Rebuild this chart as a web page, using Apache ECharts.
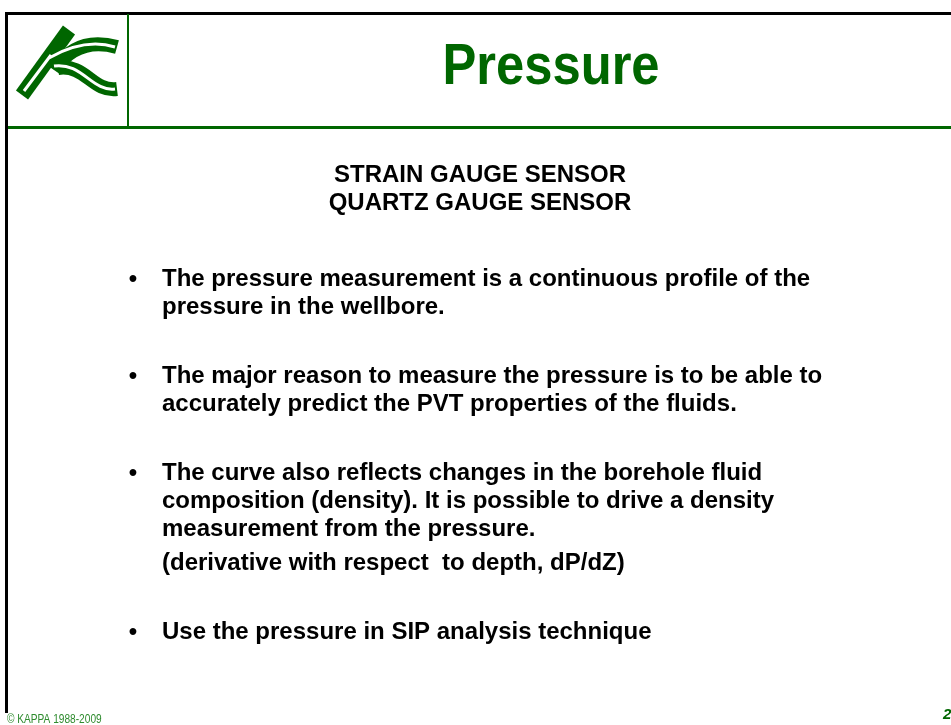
<!DOCTYPE html>
<html>
<head>
<meta charset="utf-8">
<title>Pressure</title>
<script src="https://cdn.jsdelivr.net/npm/echarts@6/dist/echarts.min.js"></script>
<style>
  html, body { margin: 0; padding: 0; background: #fff; }
  #main { width: 951px; height: 725px; }
</style>
</head>
<body>
<div id="main"></div>
<script>
// slide texts
const titleText = 'Pressure';
const sensorLines = ['STRAIN GAUGE SENSOR', 'QUARTZ GAUGE SENSOR'];
const bulletLines = [
  ['The pressure measurement is a continuous profile of the', 'pressure in the wellbore.'],
  ['The major reason to measure the pressure is to be able to', 'accurately predict the PVT properties of the fluids.'],
  ['The curve also reflects changes in the borehole fluid', 'composition (density). It is possible to drive a density', 'measurement from the pressure.'],
  ['Use the pressure in SIP analysis technique']
];
const bulletNotes = ['', '', '(derivative with respect  to depth, dP/dZ)', ''];
const footerText = '\u00a9 KAPPA 1988-2009';
const pageNumber = '2';

const GREEN = '#006600';
const FONT = '"Liberation Sans", Arial, sans-serif';

var myChart = echarts.init(document.getElementById('main'));

var els = [];

// frame lines
els.push({ type: 'rect', shape: { x: 5, y: 12, width: 946, height: 3 }, style: { fill: '#000' } });
els.push({ type: 'rect', shape: { x: 5, y: 12, width: 3, height: 701 }, style: { fill: '#000' } });
els.push({ type: 'rect', shape: { x: 127, y: 14, width: 2, height: 113 }, style: { fill: GREEN } });
els.push({ type: 'rect', shape: { x: 8, y: 126, width: 943, height: 3 }, style: { fill: GREEN } });

// logo (stylised K)
var bar = { x1: 22, y1: 95, x2: 69, y2: 30 };
var upperArm = { x1: 54, y1: 70, cpx1: 70, cpy1: 46, cpx2: 92, cpy2: 40, x2: 117, y2: 47 };
var lowerArm = { x1: 58, y1: 68, cpx1: 86, cpy1: 64, cpx2: 92, cpy2: 92, x2: 117, y2: 89 };
els.push({ type: 'line', shape: bar, style: { stroke: GREEN, lineWidth: 15 } });
els.push({ type: 'bezierCurve', shape: upperArm, style: { stroke: GREEN, lineWidth: 14, fill: null } });
els.push({ type: 'bezierCurve', shape: lowerArm, style: { stroke: GREEN, lineWidth: 14, fill: null } });
els.push({ type: 'line', shape: { x1: 24, y1: 91, x2: 51, y2: 55 }, style: { stroke: '#fff', lineWidth: 3 } });
els.push({ type: 'bezierCurve', shape: { x1: 49, y1: 58, cpx1: 70, cpy1: 46, cpx2: 92, cpy2: 40, x2: 115, y2: 47 },
  style: { stroke: '#fff', lineWidth: 3, fill: null } });
els.push({ type: 'bezierCurve', shape: { x1: 54, y1: 66, cpx1: 82, cpy1: 62, cpx2: 92, cpy2: 92, x2: 115, y2: 89 },
  style: { stroke: '#fff', lineWidth: 3, fill: null } });

// title (slightly narrow face)
els.push({ type: 'text', x: 551, y: 68, scaleX: 0.89, style: {
  text: titleText, fill: GREEN, font: 'bold 57px ' + FONT, align: 'center', verticalAlign: 'middle' } });

// sensor headings
sensorLines.forEach(function (t, i) {
  els.push({ type: 'text', x: 480, y: 175 + i * 28, style: {
    text: t, fill: '#000', font: 'bold 24px ' + FONT, align: 'center', verticalAlign: 'middle' } });
});

// bullets
var y = 279, step = 28;
bulletLines.forEach(function (lines, b) {
  els.push({ type: 'text', x: 133, y: y, style: {
    text: '\u2022', fill: '#000', font: 'bold 24px ' + FONT, align: 'center', verticalAlign: 'middle' } });
  lines.forEach(function (t, i) {
    els.push({ type: 'text', x: 162, y: y + i * step, style: {
      text: t, fill: '#000', font: 'bold 24px ' + FONT, align: 'left', verticalAlign: 'middle' } });
  });
  var last = y + (lines.length - 1) * step;
  if (bulletNotes[b]) {
    last += 34;
    els.push({ type: 'text', x: 162, y: last, style: {
      text: bulletNotes[b], fill: '#000', font: 'bold 24px ' + FONT, align: 'left', verticalAlign: 'middle' } });
  }
  y = last + 69;
});

// footer
els.push({ type: 'text', x: 7, y: 719, scaleX: 0.78, style: {
  text: footerText, fill: '#2e8b2e', font: '13px ' + FONT, align: 'left', verticalAlign: 'middle' } });
els.push({ type: 'text', x: 943, y: 715, style: {
  text: pageNumber, fill: GREEN, font: 'italic bold 15px ' + FONT, align: 'left', verticalAlign: 'middle' } });

var option = {
  animation: false,
  backgroundColor: '#fff',
  graphic: { elements: els }
};
myChart.setOption(option);
</script>
</body>
</html>
